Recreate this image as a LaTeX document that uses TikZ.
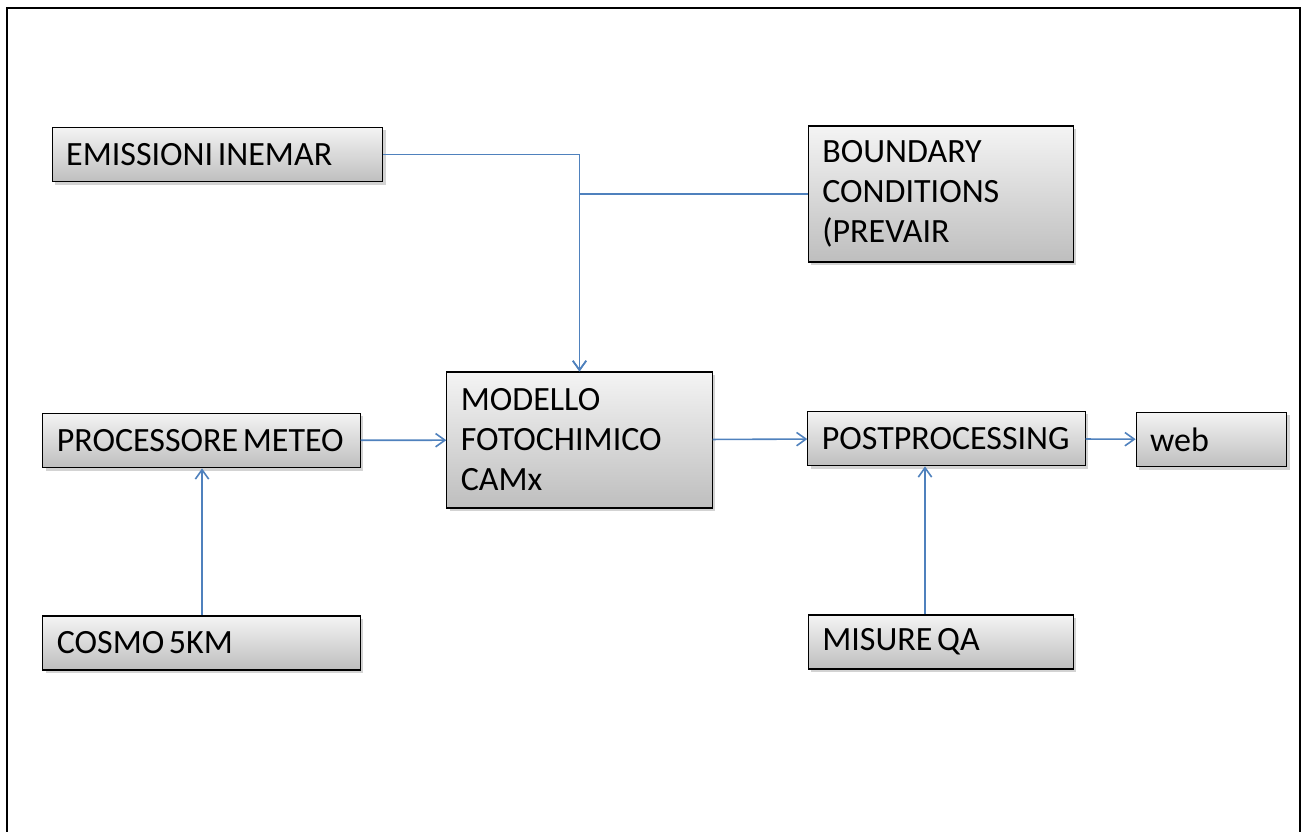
\documentclass[tikz,border=0pt]{standalone}
\usepackage{fontspec}
\setmainfont{Carlito}
\usetikzlibrary{arrows.meta,shadows}

\definecolor{linkblue}{RGB}{79,129,189}
\definecolor{boxtop}{RGB}{244,244,244}
\definecolor{boxbottom}{RGB}{190,190,190}

\begin{document}
\begin{tikzpicture}[x=0.75pt, y=-0.75pt,
                    block/.style={draw, line width=0.8pt, top color=boxtop, bottom color=boxbottom,
                                  inner xsep=10.5pt, align=left, font=\fontsize{25.5}{30}\selectfont,
                                  execute at begin node={\spaceskip=3.5pt\relax},
                                  drop shadow={shadow xshift=2pt, shadow yshift=-2pt, opacity=0.35}},
                    link/.style={color=linkblue, line width=1.2pt, -{Straight Barb[length=7pt,width=10pt]}}]

  \useasboundingbox (0,0) rectangle (1307,832);
  \draw[line width=1.5pt] (7,850) -- (7,8) -- (1300,8) -- (1300,850);

  \node[block, text width=227pt, minimum height=41pt] (emis)   at (217.5,154.5) {EMISSIONI INEMAR};
  \node[block, text width=178pt, minimum height=102pt] (bound) at (941,194) {BOUNDARY\\CONDITIONS\\(PREVAIR};
  \node[block, text width=178pt, minimum height=102pt] (model) at (579.5,440) {MODELLO\\FOTOCHIMICO\\CAMx};
  \node[block, text width=217pt, minimum height=41pt] (meteo)  at (201.5,440.5) {PROCESSORE METEO};
  \node[block, text width=187pt, minimum height=41pt] (post)   at (946.5,438.5) {POSTPROCESSING};
  \node[block, text width=92pt, minimum height=41pt] (web)     at (1211.5,439.5) {web};
  \node[block, text width=217pt, minimum height=40.5pt] (cosmo) at (201.5,643) {COSMO 5KM};
  \node[block, text width=178pt, minimum height=40.5pt] (misure) at (941,642) {MISURE QA};

  \draw[link] (emis.east) -| (model.north);
  \draw[link] (bound.west) -| (model.north);

  \path[every edge/.append style={link}]
    (meteo) edge (model)
    (model) edge (post)
    (post) edge (web);
  \draw[link] ([xshift=0.4pt]cosmo.north) -- ([xshift=0.4pt]meteo.south);
  \draw[link] ([xshift=-12pt]misure.north) -- ([xshift=-12pt]misure.north |- post.south);
\end{tikzpicture}
\end{document}
